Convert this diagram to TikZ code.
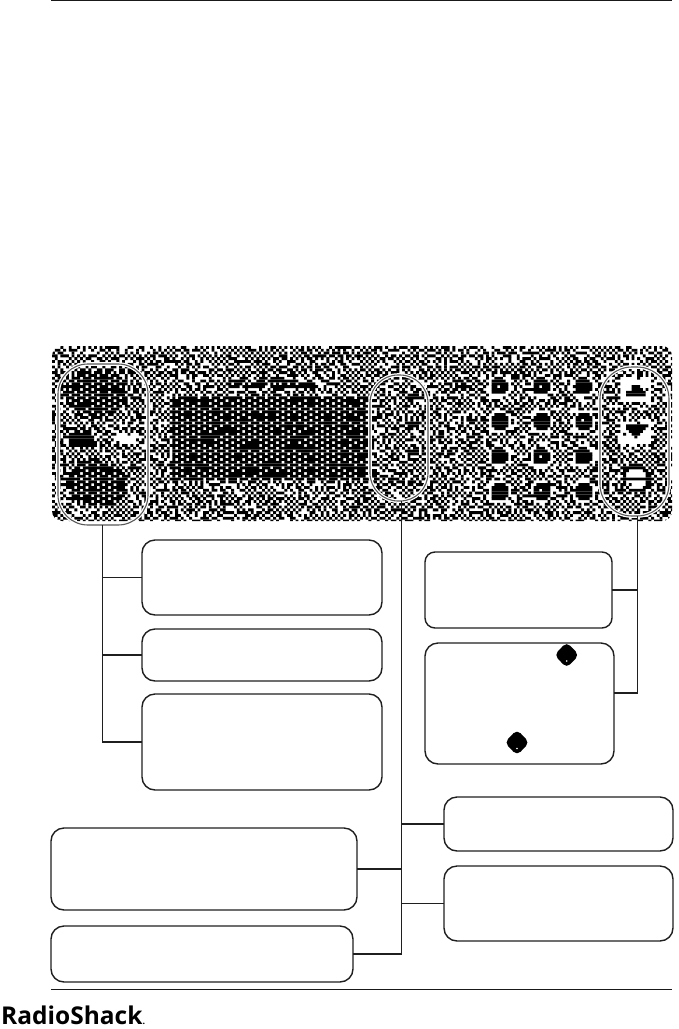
\documentclass[tikz,border=0pt]{standalone}
\usepackage{fontspec}
\setmainfont{Open Sans}
\usetikzlibrary{shapes.geometric}
\newcount\dthS \dthS=4711
\newcount\dthT \newcount\dthR
\newcount\dthX \newcount\dthY
\newcount\dthPh \newcount\dthL
\newcount\dthPx \newcount\dthPy
\newcount\dthK
\def\dthStep{%
  \global\dthS=\numexpr\dthS*25173+13849\relax
  \dthT=\dthS \divide\dthT by 65536 \multiply\dthT by 65536
  \global\advance\dthS by-\dthT}
\def\dthNext{\dthStep\dthStep
  \dthR=\dthS \divide\dthR by 656 }
% regions: 1 dense, 3 medium, 2 light, 4 solid
\def\dthC#1#2#3#4{\ifnum\numexpr(\dthPx-#1)*(\dthPx-#1)+(\dthPy-#2)*(\dthPy-#2)\relax<\numexpr#3*#3\relax \dthK=#4 \fi}
\def\dthE#1#2{\ifnum\numexpr(\dthPx-#1)*(\dthPx-#1)*529+(\dthPy-#2)*(\dthPy-#2)*900\relax<476100 \dthK=1 \fi}
\def\dthB#1#2#3#4#5{\ifnum\dthPx>#1 \ifnum\dthPx<#3 \ifnum\dthPy>#2 \ifnum\dthPy<#4 \dthK=#5 \fi\fi\fi\fi}
\def\dthKey#1#2{\dthC{#1}{#2}{12}{2}\dthC{#1}{#2}{9}{4}\dthC{#1}{#2}{2}{0}}
\def\dthRegions{%
  \dthK=0
  \ifnum\dthPx<150
    \dthE{95}{391}\dthE{95}{482}
    \dthB{72}{432}{88}{446}{4}\dthC{73}{439}{7}{4}\dthC{87}{439}{7}{4}
    \dthB{112}{431}{134}{442}{2}
  \else\ifnum\dthPx<370
    \dthB{170}{395}{367}{480}{1}
    \dthB{228}{378}{315}{388}{3}
  \else\ifnum\dthPx<430
    \dthB{406}{391}{418}{399}{4}\dthB{406}{420}{418}{426}{4}
    \dthB{406}{449}{418}{455}{4}\dthB{406}{478}{418}{484}{3}
  \else\ifnum\dthPx<600
    \dthKey{498}{385}\dthKey{540}{385}\dthKey{582}{385}
    \dthKey{498}{420}\dthKey{540}{420}\dthKey{582}{420}
    \dthKey{498}{455}\dthKey{540}{455}\dthKey{582}{455}
    \dthKey{498}{490}\dthKey{540}{490}\dthKey{582}{490}
  \else
    \dthB{619}{376}{651}{400}{2}
    \dthB{619}{419}{651}{442}{2}
    \ifnum\dthPy>381 \ifnum\dthPy<396
      \ifnum\numexpr 13*(\dthPx-635)\relax<\numexpr 11*(\dthPy-381)\relax
      \ifnum\numexpr 13*(635-\dthPx)\relax<\numexpr 11*(\dthPy-381)\relax
        \dthK=4 \fi\fi\fi\fi
    \ifnum\dthPy>423 \ifnum\dthPy<438
      \ifnum\numexpr 13*(\dthPx-635)\relax<\numexpr 11*(438-\dthPy)\relax
      \ifnum\numexpr 13*(635-\dthPx)\relax<\numexpr 11*(438-\dthPy)\relax
        \dthK=4 \fi\fi\fi\fi
    \dthC{635}{477}{15}{4}\dthC{635}{477}{11}{2}
    \dthB{622}{475}{648}{479}{4}
  \fi\fi\fi\fi}
\def\dthCell{%
  \ifnum\dthY=0 \expandafter\xdef\csname dthP\the\dthX\endcsname{0}\fi
  \dthNext
  \ifnum\dthR<50 \dthPh=\dthL \else \dthPh=\csname dthP\the\dthX\endcsname\relax \fi
  \dthNext
  \ifnum\dthR<15 \dthPh=\numexpr1-\dthPh\relax \fi
  \global\dthL=\dthPh
  \expandafter\xdef\csname dthP\the\dthX\endcsname{\the\dthPh}%
  \dthPx=\numexpr52+\dthX*28/10\relax
  \dthPy=\numexpr346+\dthY*28/10\relax
  \dthRegions
  \dthNext
  \dthT=0
  \ifodd\numexpr\dthX+\dthY+\dthPh\relax \dthT=1 \fi
  \ifcase\dthK
  \or \dthT=1
      \dthPy=\numexpr\dthX+2*\dthY\relax
      \ifodd\dthPy\else
        \divide\dthPy by 2
        \ifodd\dthPy\else \ifnum\dthR<80 \dthT=0 \fi\fi
      \fi
  \or \ifnum\dthR<92 \dthT=0 \fi
  \or \ifnum\dthR<45 \dthT=1 \fi
  \or \dthT=1
  \fi
  \ifnum\dthT=1
    \pgfpathrectangle{\pgfpoint{\dimexpr52pt+2.8pt*\dthX\relax}{\dimexpr-346pt-2.8pt*\dthY\relax}}{\pgfpoint{2.85pt}{-2.85pt}}%
  \fi}
\def\dthRow{\ifnum\dthX<222 \dthCell \global\advance\dthX by1 \expandafter\dthRow\fi}
\def\dthRows{\ifnum\dthY<63
    \global\dthX=0 \global\dthL=0 \dthRow
    \pgfusepath{fill}%
    \global\advance\dthY by1 \expandafter\dthRows\fi}
\tikzset{
  textbox/.style={draw=black!88,line width=1.4pt,rounded corners=13pt,inner sep=0pt,outer sep=0pt,fill=white},
  capsule/.style={draw=black!65,line width=1.1pt,inner sep=0pt,outer sep=0pt},
  halo/.style={draw=white,line width=3.6pt,inner sep=0pt,outer sep=0pt},
  leader/.style={draw=black!88,line width=1.4pt},
  rule/.style={draw=black!90,line width=0.9pt},
  blob/.style={shape=diamond,fill=black,inner sep=0pt,minimum width=25pt,minimum height=26pt,rounded corners=5pt},
  blobdot/.style={shape=circle,fill=white,inner sep=0pt,minimum size=1.8pt},
}
\begin{document}
\begin{tikzpicture}[x=1pt,y=-1pt]
\useasboundingbox (0,0) rectangle (679,1029);
\coordinate (topA) at (51,0);
\coordinate (topB) at (672,0);
\draw[rule] (topA) -- (topB);
% front panel rendered as a dither
\begin{scope}
  \clip[rounded corners=10pt] (52,346) rectangle (672,521);
  \pgfsetfillcolor{black}
  \global\dthY=0
  \dthRows
\end{scope}
% capsules
\path[halo,rounded corners=30pt] (58,364) rectangle (148,525);
\path[halo,rounded corners=28pt] (370,375) rectangle (428,501);
\path[halo,rounded corners=32pt] (600,367) rectangle (669,516);
\node[capsule,rounded corners=30pt,minimum width=90pt,minimum height=161pt] (capL) at (103,444.5) {};
\node[capsule,rounded corners=28pt,minimum width=58pt,minimum height=126pt] (capM) at (399,438) {};
\node[capsule,rounded corners=32pt,minimum width=69pt,minimum height=149pt] (capR) at (634.5,441.5) {};
% text boxes
\node[textbox,minimum width=240pt,minimum height=75pt] (box1) at (262,577.5) {};
\node[textbox,minimum width=240pt,minimum height=52pt] (box2) at (262,655) {};
\node[textbox,minimum width=240pt,minimum height=96pt] (box3) at (262,742) {};
\node[textbox,rounded corners=10pt,minimum width=187pt,minimum height=76pt] (boxA) at (518.5,590) {};
\node[textbox,minimum width=189pt,minimum height=121pt] (boxB) at (519.5,703.5) {};
\node[textbox,minimum width=229pt,minimum height=54pt] (boxC) at (558.5,824) {};
\node[textbox,minimum width=229pt,minimum height=75pt] (boxD) at (558.5,903.5) {};
\node[textbox,minimum width=306pt,minimum height=82pt] (boxE) at (204,869) {};
\node[textbox,minimum width=302pt,minimum height=56pt] (boxF) at (202,954) {};
% blobs
\node[blob] (blobA) at (566.7,655) {};
\node[blob] (blobB) at (517,742.5) {};
\node[blobdot] (dotA) at (566.7,661) {};
\node[blobdot] (dotB) at (517,748.5) {};
% connectors
\coordinate (trunkL) at (102.5,525);
\coordinate (trunkM) at (401.5,501);
\coordinate (trunkR) at (637.5,516);
\coordinate (tapB) at (614,693);
\draw[leader] (trunkL) |- (box1.west);
\draw[leader] (trunkL) |- (box2.west);
\draw[leader] (trunkL) |- (box3.west);
\draw[leader] (trunkM) |- (boxE.east);
\draw[leader] (trunkM) |- (boxF.east);
\draw[leader] (trunkM) |- (boxC.west);
\draw[leader] (trunkM) |- (boxD.west);
\draw[leader] (trunkR) |- (boxA.east);
\draw[leader] (trunkR) |- (tapB);
% footer
\coordinate (footA) at (51,989);
\coordinate (footB) at (672,989);
\draw[rule] (footA) -- (footB);
\node[anchor=base west,inner sep=0pt,font=\fontsize{24.5}{24.5}\selectfont\bfseries] (logo) at (1,1024.5) {RadioShack\fontsize{9}{9}\selectfont.};
\end{tikzpicture}
\end{document}
